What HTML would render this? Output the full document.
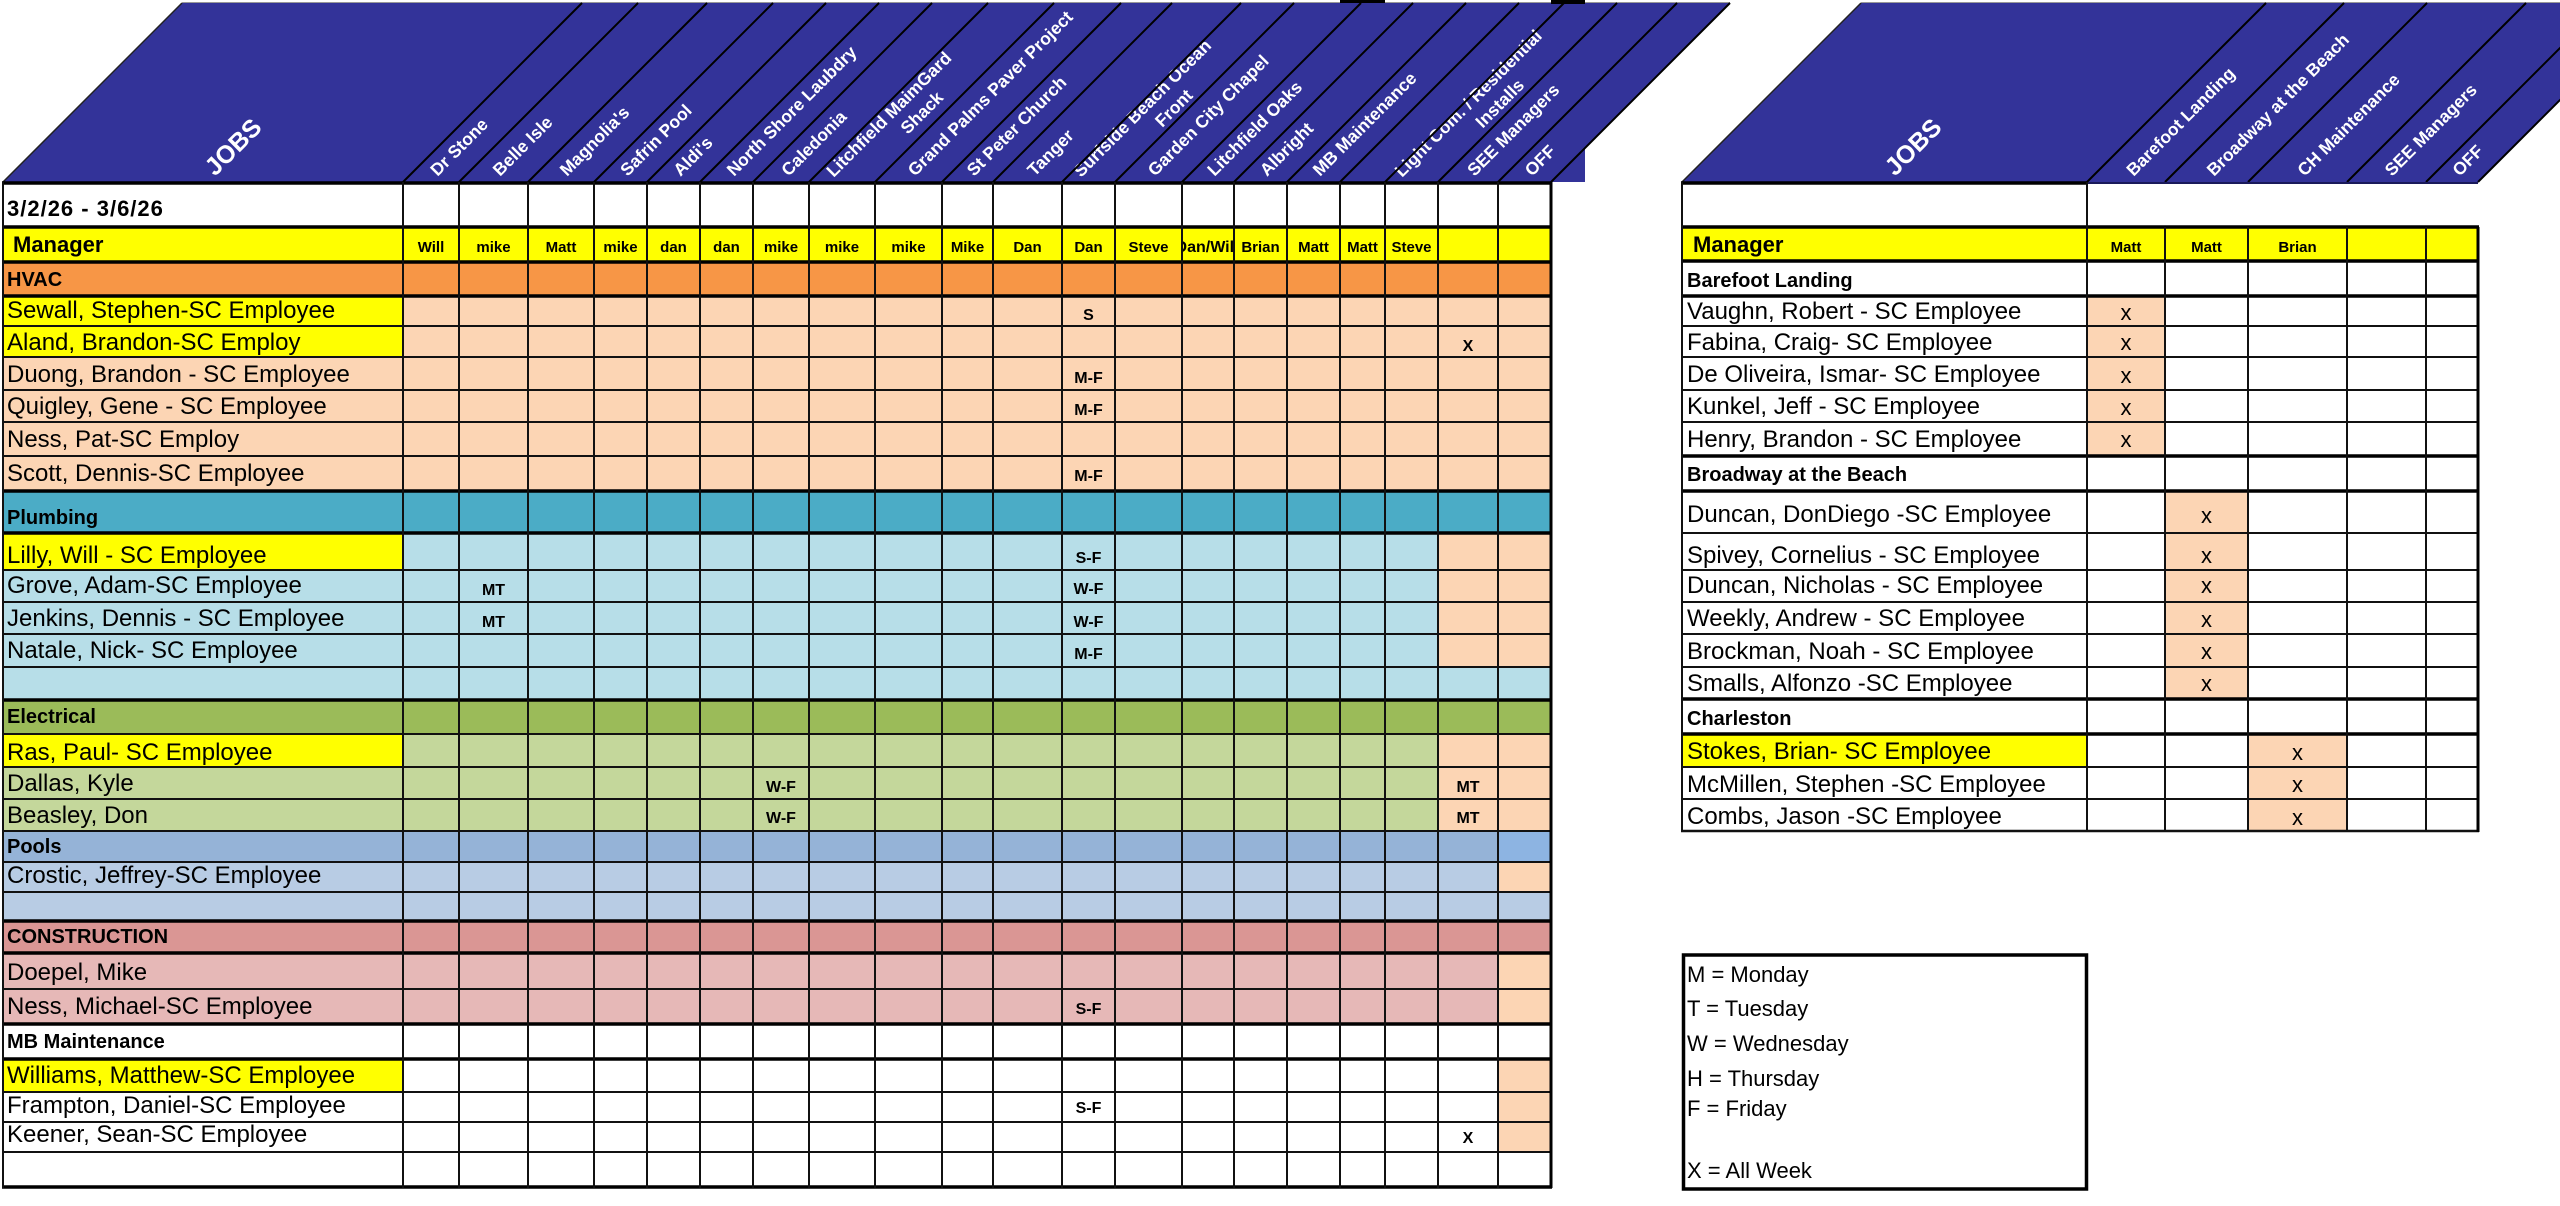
<!DOCTYPE html>
<html><head><meta charset="utf-8"><style>html,body{margin:0;padding:0;background:#fff;}svg{display:block;}</style></head>
<body>
<svg xmlns="http://www.w3.org/2000/svg" width="2560" height="1206" viewBox="0 0 2560 1206" font-family="'Liberation Sans', Arial, sans-serif">
<style>
.n{font-size:24px;fill:#000}
.b{font-size:20px;font-weight:bold;fill:#000}
.bm{font-size:22px;font-weight:bold;fill:#000}
.m{font-size:16px;font-weight:bold;text-anchor:middle;fill:#000}
.v{font-size:15px;font-weight:bold;text-anchor:middle;fill:#000}
.h{font-size:17.5px;font-weight:bold;fill:#fff}
.j{font-size:25px;font-weight:bold;fill:#fff}
.x{font-size:22px;text-anchor:middle;fill:#000}
.lg{font-size:22px;fill:#000}
</style>
<rect width="2560" height="1206" fill="#fff"/>

<!-- header shapes -->
<polygon points="3,182 182,3 1730,3 1585,148 1585,182" fill="#333399"/>
<polygon points="1682,182 1861,3 2560,3 2560,100 2478,182" fill="#333399"/>
<path d="M182 2.5H1730M1861 2.5H2560" stroke="#999" stroke-width="1"/>
<rect x="1340" y="0" width="45" height="3" fill="#000"/>
<rect x="1551" y="0" width="34" height="4" fill="#000"/>

<!-- header labels left -->
<text class="j" transform="translate(215,177) rotate(-45)">JOBS</text>
<text class="h" transform="translate(437.5,177) rotate(-45)">Dr Stone</text>
<text class="h" transform="translate(500,177) rotate(-45)">Belle Isle</text>
<text class="h" transform="translate(567,177) rotate(-45)">Magnolia's</text>
<text class="h" transform="translate(627.5,177) rotate(-45)">Safrin Pool</text>
<text class="h" transform="translate(680.5,177) rotate(-45)">Aldi's</text>
<text class="h" transform="translate(734,177) rotate(-45)">North Shore Laubdry</text>
<text class="h" transform="translate(788.5,177) rotate(-45)">Caledonia</text>
<text class="h" transform="translate(833.6,178) rotate(-45)">Litchfield  MaimGard</text>
<text class="h" text-anchor="middle" transform="translate(926,116.8) rotate(-45)">Shack</text>
<text class="h" transform="translate(915,177) rotate(-45)">Grand Palms Paver Project</text>
<text class="h" transform="translate(974,177) rotate(-45)">St Peter Church</text>
<text class="h" transform="translate(1034.5,177) rotate(-45)">Tanger</text>
<text class="h" transform="translate(1081,178) rotate(-45)">Surfside Beach Ocean</text>
<text class="h" text-anchor="middle" transform="translate(1178,112.3) rotate(-45)">Front</text>
<text class="h" transform="translate(1155,177) rotate(-45)">Garden City Chapel</text>
<text class="h" transform="translate(1214.5,177) rotate(-45)">Litchfield Oaks</text>
<text class="h" transform="translate(1267,177) rotate(-45)">Albright</text>
<text class="h" transform="translate(1320,177) rotate(-45)">MB Maintenance</text>
<text class="h" transform="translate(1402,178) rotate(-45)">Light Com. / Residential</text>
<text class="h" text-anchor="middle" transform="translate(1504,107.5) rotate(-45)">Installs</text>
<text class="h" transform="translate(1474.5,177) rotate(-45)">SEE Managers</text>
<text class="h" transform="translate(1532,177) rotate(-45)">OFF</text>

<!-- header labels right -->
<text class="j" transform="translate(1895,177) rotate(-45)">JOBS</text>
<text class="h" transform="translate(2133.6,177) rotate(-45)">Barefoot Landing</text>
<text class="h" transform="translate(2214,177) rotate(-45)">Broadway at the Beach</text>
<text class="h" transform="translate(2304.6,177) rotate(-45)">CH Maintenance</text>
<text class="h" transform="translate(2392,177) rotate(-45)">SEE Managers</text>
<text class="h" transform="translate(2459.6,177) rotate(-45)">OFF</text>

<!-- slanted separators -->
<path d="M403 182L582 3M459 182L638 3M528 182L707 3M594 182L773 3M647 182L826 3M700 182L879 3M753 182L932 3M809 182L988 3M875 182L1054 3M942 182L1121 3M993 182L1172 3M1062 182L1241 3M1115 182L1294 3M1182 182L1361 3M1234 182L1413 3M1287 182L1466 3M1340 182L1519 3M1385 182L1564 3M1438 182L1617 3M1498 182L1677 3M1551 182L1730 3M2087 182L2266 3M2165 182L2344 3M2248 182L2427 3M2347 182L2526 3M2426 182L2605 3M2478 182L2657 3" stroke="#000" stroke-width="2" fill="none"/>
<path d="M3 182L182 3M1682 182L1861 3" stroke="#222" stroke-width="1.5" fill="none"/>

<!-- LEFT TABLE FILLS -->
<rect x="3" y="227" width="1548" height="35" fill="#FFFF00"/>
<rect x="3" y="262" width="1548" height="34" fill="#F79646"/>
<rect x="3" y="296" width="1548" height="195" fill="#FCD5B4"/>
<rect x="3" y="296" width="400" height="61" fill="#FFFF00"/>
<rect x="3" y="491" width="1548" height="42" fill="#4BACC6"/>
<rect x="3" y="533" width="1548" height="167" fill="#B7DEE8"/>
<rect x="3" y="533" width="400" height="37" fill="#FFFF00"/>
<rect x="1438" y="533" width="113" height="134" fill="#FCD5B4"/>
<rect x="3" y="700" width="1548" height="34" fill="#9BBB59"/>
<rect x="3" y="734" width="1548" height="97" fill="#C4D79B"/>
<rect x="3" y="734" width="400" height="33" fill="#FFFF00"/>
<rect x="1438" y="734" width="113" height="97" fill="#FCD5B4"/>
<rect x="3" y="831" width="1548" height="31" fill="#95B3D7"/>
<rect x="1498" y="831" width="53" height="31" fill="#8DB4E2"/>
<rect x="3" y="862" width="1548" height="59" fill="#B8CCE4"/>
<rect x="1498" y="862" width="53" height="30" fill="#FCD5B4"/>
<rect x="3" y="921" width="1548" height="32" fill="#DA9694"/>
<rect x="3" y="953" width="1548" height="71" fill="#E6B8B7"/>
<rect x="1498" y="953" width="53" height="71" fill="#FCD5B4"/>
<rect x="3" y="1059" width="400" height="33" fill="#FFFF00"/>
<rect x="1498" y="1059" width="53" height="93" fill="#FCD5B4"/>

<!-- RIGHT TABLE FILLS -->
<rect x="1682" y="227" width="796" height="34" fill="#FFFF00"/>
<rect x="2087" y="296" width="78" height="160" fill="#FCD5B4"/>
<rect x="2165" y="491" width="83" height="208" fill="#FCD5B4"/>
<rect x="1682" y="734" width="405" height="33" fill="#FFFF00"/>
<rect x="2248" y="734" width="99" height="97" fill="#FCD5B4"/>

<!-- LEFT TABLE LINES -->
<path d="M3 326H1551M3 357H1551M3 390H1551M3 422H1551M3 456H1551M3 570H1551M3 602H1551M3 634H1551M3 667H1551M3 734H1551M3 767H1551M3 799H1551M3 831H1551M3 862H1551M3 892H1551M3 989H1551M3 1092H1551M3 1122H1551M3 1152H1551" stroke="#111" stroke-width="2" fill="none"/>
<path d="M2 183H1552M2 227H1552M2 262H1552M2 296H1552M2 491H1552M2 533H1552M2 700H1552M2 921H1552M2 953H1552M2 1024H1552M2 1059H1552M2 1187H1552" stroke="#000" stroke-width="3.5" fill="none"/>
<path d="M3 182V1188M403 182V1188M459 182V1188M528 182V1188M594 182V1188M647 182V1188M700 182V1188M753 182V1188M809 182V1188M875 182V1188M942 182V1188M993 182V1188M1062 182V1188M1115 182V1188M1182 182V1188M1234 182V1188M1287 182V1188M1340 182V1188M1385 182V1188M1438 182V1188M1498 182V1188" stroke="#111" stroke-width="2" fill="none"/>
<path d="M1551 182V1188" stroke="#000" stroke-width="3" fill="none"/>

<!-- RIGHT TABLE LINES -->
<path d="M1682 326H2478M1682 357H2478M1682 390H2478M1682 422H2478M1682 533H2478M1682 570H2478M1682 602H2478M1682 634H2478M1682 667H2478M1682 767H2478M1682 799H2478" stroke="#111" stroke-width="2" fill="none"/>
<path d="M1681 831H2479" stroke="#111" stroke-width="2.5" fill="none"/>
<path d="M1681 183H2087M1681 227H2479M1681 261H2479M1681 296H2479M1681 456H2479M1681 491H2479M1681 699H2479M1681 734H2479" stroke="#000" stroke-width="3.5" fill="none"/>
<path d="M2087 183H2478" stroke="#1a1a5a" stroke-width="2" fill="none"/>
<path d="M1682 182V832M2087 182V832M2165 227V832M2248 227V832M2347 227V832M2426 227V832" stroke="#111" stroke-width="2" fill="none"/>
<path d="M2478 227V832" stroke="#000" stroke-width="3" fill="none"/>

<!-- LEFT TABLE TEXT -->
<text x="7" y="216" font-size="22" font-weight="bold" letter-spacing="1">3/2/26 - 3/6/26</text>
<text x="13" y="252" class="bm">Manager</text>
<text class="v" x="431" y="252">Will</text>
<text class="v" x="493.5" y="252">mike</text>
<text class="v" x="561" y="252">Matt</text>
<text class="v" x="620.5" y="252">mike</text>
<text class="v" x="673.5" y="252">dan</text>
<text class="v" x="726.5" y="252">dan</text>
<text class="v" x="781" y="252">mike</text>
<text class="v" x="842" y="252">mike</text>
<text class="v" x="908.5" y="252">mike</text>
<text class="v" x="967.5" y="252">Mike</text>
<text class="v" x="1027.5" y="252">Dan</text>
<text class="v" x="1088.5" y="252">Dan</text>
<text class="v" x="1148.5" y="252">Steve</text>
<svg x="1183" y="228" width="50" height="33" overflow="hidden"><text class="v" style="font-size:16px" x="24" y="24">Dan/Will</text></svg>
<text class="v" x="1260.5" y="252">Brian</text>
<text class="v" x="1313.5" y="252">Matt</text>
<text class="v" x="1362.5" y="252">Matt</text>
<text class="v" x="1411.5" y="252">Steve</text>

<text class="b" x="7" y="286">HVAC</text>
<text class="n" x="7" y="318">Sewall, Stephen-SC Employee</text>
<text class="n" x="7" y="350">Aland, Brandon-SC Employ</text>
<text class="n" x="7" y="382">Duong, Brandon - SC Employee</text>
<text class="n" x="7" y="414">Quigley, Gene - SC Employee</text>
<text class="n" x="7" y="447">Ness, Pat-SC Employ</text>
<text class="n" x="7" y="481">Scott, Dennis-SC Employee</text>
<text class="b" x="7" y="524">Plumbing</text>
<text class="n" x="7" y="563">Lilly, Will - SC Employee</text>
<text class="n" x="7" y="593">Grove, Adam-SC Employee</text>
<text class="n" x="7" y="626">Jenkins, Dennis - SC Employee</text>
<text class="n" x="7" y="658">Natale, Nick- SC Employee</text>
<text class="b" x="7" y="723">Electrical</text>
<text class="n" x="7" y="760">Ras, Paul- SC Employee</text>
<text class="n" x="7" y="791">Dallas, Kyle</text>
<text class="n" x="7" y="823">Beasley, Don</text>
<text class="b" x="7" y="853">Pools</text>
<text class="n" x="7" y="883">Crostic, Jeffrey-SC Employee</text>
<text class="b" x="7" y="943">CONSTRUCTION</text>
<text class="n" x="7" y="980">Doepel, Mike</text>
<text class="n" x="7" y="1014">Ness, Michael-SC Employee</text>
<text class="b" x="7" y="1048">MB Maintenance</text>
<text class="n" x="7" y="1083">Williams, Matthew-SC Employee</text>
<text class="n" x="7" y="1113">Frampton, Daniel-SC Employee</text>
<text class="n" x="7" y="1142">Keener, Sean-SC Employee</text>

<!-- marks -->
<text class="m" x="1088.5" y="320">S</text>
<text class="m" x="1468" y="351">X</text>
<text class="m" x="1088.5" y="383">M-F</text>
<text class="m" x="1088.5" y="415">M-F</text>
<text class="m" x="1088.5" y="481">M-F</text>
<text class="m" x="1088.5" y="563">S-F</text>
<text class="m" x="1088.5" y="594">W-F</text>
<text class="m" x="1088.5" y="627">W-F</text>
<text class="m" x="1088.5" y="659">M-F</text>
<text class="m" x="493.5" y="595">MT</text>
<text class="m" x="493.5" y="627">MT</text>
<text class="m" x="781" y="792">W-F</text>
<text class="m" x="781" y="823">W-F</text>
<text class="m" x="1468" y="792">MT</text>
<text class="m" x="1468" y="823">MT</text>
<text class="m" x="1088.5" y="1014">S-F</text>
<text class="m" x="1088.5" y="1113">S-F</text>
<text class="m" x="1468" y="1143">X</text>

<!-- RIGHT TABLE TEXT -->
<text x="1693" y="252" class="bm">Manager</text>
<text class="v" x="2126" y="252">Matt</text>
<text class="v" x="2206.5" y="252">Matt</text>
<text class="v" x="2297.5" y="252">Brian</text>
<text class="b" x="1687" y="287">Barefoot Landing</text>
<text class="n" x="1687" y="319">Vaughn, Robert - SC Employee</text>
<text class="n" x="1687" y="350">Fabina, Craig- SC Employee</text>
<text class="n" x="1687" y="382">De Oliveira, Ismar- SC Employee</text>
<text class="n" x="1687" y="414">Kunkel, Jeff - SC Employee</text>
<text class="n" x="1687" y="447">Henry, Brandon - SC Employee</text>
<text class="b" x="1687" y="481">Broadway at the Beach</text>
<text class="n" x="1687" y="522">Duncan, DonDiego -SC Employee</text>
<text class="n" x="1687" y="563">Spivey, Cornelius - SC Employee</text>
<text class="n" x="1687" y="593">Duncan, Nicholas - SC Employee</text>
<text class="n" x="1687" y="626">Weekly, Andrew - SC Employee</text>
<text class="n" x="1687" y="659">Brockman, Noah - SC Employee</text>
<text class="n" x="1687" y="691">Smalls, Alfonzo -SC Employee</text>
<text class="b" x="1687" y="725">Charleston</text>
<text class="n" x="1687" y="759">Stokes, Brian- SC Employee</text>
<text class="n" x="1687" y="792">McMillen, Stephen -SC Employee</text>
<text class="n" x="1687" y="824">Combs, Jason -SC Employee</text>

<text class="x" x="2126" y="320">x</text>
<text class="x" x="2126" y="350">x</text>
<text class="x" x="2126" y="383">x</text>
<text class="x" x="2126" y="415">x</text>
<text class="x" x="2126" y="447">x</text>
<text class="x" x="2206.5" y="523">x</text>
<text class="x" x="2206.5" y="563">x</text>
<text class="x" x="2206.5" y="593">x</text>
<text class="x" x="2206.5" y="627">x</text>
<text class="x" x="2206.5" y="659">x</text>
<text class="x" x="2206.5" y="691">x</text>
<text class="x" x="2297.5" y="760">x</text>
<text class="x" x="2297.5" y="792">x</text>
<text class="x" x="2297.5" y="825">x</text>

<!-- LEGEND -->
<rect x="1683.5" y="955" width="403" height="234" fill="none" stroke="#000" stroke-width="3.5"/>
<text class="lg" x="1687" y="982">M = Monday</text>
<text class="lg" x="1687" y="1016">T = Tuesday</text>
<text class="lg" x="1687" y="1051">W = Wednesday</text>
<text class="lg" x="1687" y="1086">H = Thursday</text>
<text class="lg" x="1687" y="1116">F = Friday</text>
<text class="lg" x="1687" y="1178">X = All Week</text>
</svg>
</body></html>
